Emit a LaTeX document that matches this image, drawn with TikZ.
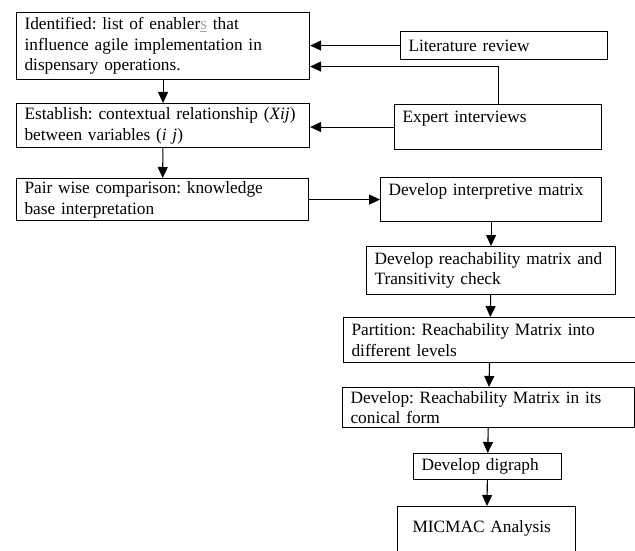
\documentclass[tikz,border=0pt]{standalone}
\usepackage{fontspec}
\setmainfont{Liberation Serif}
\usepackage{tikz}
\usetikzlibrary{arrows.meta,positioning,calc}
\frenchspacing

\begin{document}
\begin{tikzpicture}[x=1pt, y=-1pt,
    font=\fontsize{17.3}{20.6}\selectfont,
    stepbox/.style={rectangle, draw, line width=1.1pt, anchor=north west, align=left, inner xsep=8pt, inner ysep=0pt},
    arrow/.style={-{Triangle[length=11pt,width=10pt]}, line width=1.1pt}
]
\useasboundingbox (0,0) rectangle (635,551);
\clip (0,0) rectangle (635,551);

% Left column
\node[stepbox, minimum width=293pt, minimum height=67pt, text width=277pt] (ident) at (16,12) {%
    Identified: list of enabler{\color{gray!70}\underline{s}} that\\
    influence agile implementation in\\
    dispensary operations.};
\node[stepbox, minimum width=293pt, minimum height=44pt, text width=277pt] (establish) at (16,103) {%
    \mbox{Establish: contextual relationship (\textit{Xij})}\\
    between variables (\textit{i j})};
\node[stepbox, minimum width=292pt, minimum height=42pt, text width=276pt] (pairwise) at (16,178) {%
    Pair wise comparison: knowledge\\
    base interpretation};

% Sources (right, top)
\node[stepbox, minimum width=207pt, minimum height=28pt, text width=191pt] (litrev) at (400,31) {Literature review};
\node[stepbox, minimum width=207pt, minimum height=45pt, text width=191pt] (expert) at (394,104) {Expert interviews\\\mbox{}};

% Right column
\node[stepbox, minimum width=221pt, minimum height=44pt, text width=205pt] (interp) at (380,177) {\mbox{Develop interpretive matrix}\\\mbox{}};
\node[stepbox, minimum width=249pt, minimum height=48pt, text width=233pt] (reach) at (366,246) {%
    \mbox{Develop reachability matrix and}\\
    Transitivity check};
\node[stepbox, minimum width=293pt, minimum height=45pt, text width=277pt] (partition) at (343,317) {%
    \mbox{Partition: Reachability Matrix into}\\
    different levels};
\node[stepbox, minimum width=292pt, minimum height=40pt, text width=276pt] (conical) at (342,387) {%
    \mbox{Develop: Reachability Matrix in its}\\
    conical form};
\node[stepbox, minimum width=148pt, minimum height=26pt, text width=132pt] (digraph) at (413,453) {Develop digraph};
\node[stepbox, minimum width=178pt, minimum height=60pt, text width=148pt, inner xsep=15pt] (micmac) at (397,506) {MICMAC Analysis\\\mbox{}};

% Inputs into the first steps
\draw[arrow] (litrev.west) -- (litrev.west -| ident.east);
\draw[arrow] (expert.north) |- ([yshift=-20.5pt]ident.east);
\draw[arrow] (expert.west) -- (expert.west -| establish.east);

% Left column flow
\draw[arrow] (ident) -- (establish);
\draw[arrow] (establish) -- (pairwise);
\draw[arrow] (pairwise.east) -- (interp.west);

% Right column flow
\draw[arrow] (interp) -- (reach);
\draw[arrow] (reach) -- (partition);
\draw[arrow] (partition) -- (conical);
\draw[arrow] (conical) -- (digraph);
\draw[arrow] (digraph) -- (micmac);

\end{tikzpicture}
\end{document}
